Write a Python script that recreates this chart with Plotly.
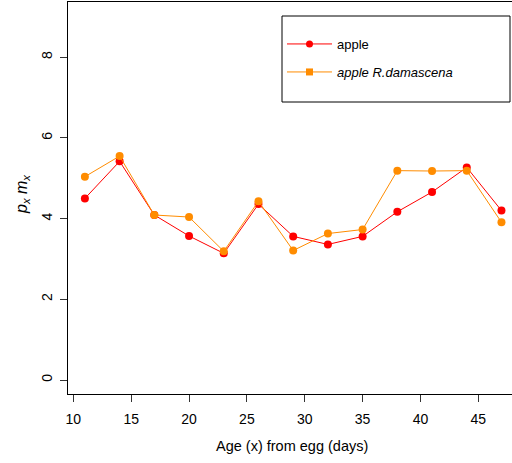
import plotly.graph_objects as go

# ---- data ----
age = [11, 14, 17, 20, 23, 26, 29, 32, 35, 38, 41, 44, 47]
apple = [4.50, 5.42, 4.09, 3.57, 3.14, 4.36, 3.56, 3.36, 3.56, 4.17, 4.66, 5.27, 4.20]
apple_rd = [5.04, 5.55, 4.09, 4.04, 3.19, 4.43, 3.21, 3.63, 3.73, 5.19, 5.18, 5.19, 3.91]
x_ticks = [10, 15, 20, 25, 30, 35, 40, 45]
y_ticks = [0, 2, 4, 6, 8]
names = ["apple", "<i>apple R.damascena</i>"]

RED = "#FF0000"
ORANGE = "#FF8C00"
FONT = "Liberation Sans, Arial, sans-serif"

W, H = 512, 463
L, R, T, B = 68, 0, 2, 69
PW, PH = W - L - R, H - T - B

def px(x):
    return (x - L) / PW

def py(y):
    return (H - B - y) / PH

fig = go.Figure()
fig.add_trace(go.Scatter(x=age, y=apple, mode="lines+markers", showlegend=False,
                         line=dict(color=RED, width=1),
                         marker=dict(color=RED, size=8, symbol="circle")))
fig.add_trace(go.Scatter(x=age, y=apple_rd, mode="lines+markers", showlegend=False,
                         line=dict(color=ORANGE, width=1),
                         marker=dict(color=ORANGE, size=8, symbol="circle")))
# legend-only entries
fig.add_trace(go.Scatter(x=[None], y=[None], mode="lines+markers", name=names[0],
                         line=dict(color=RED, width=1),
                         marker=dict(color=RED, size=7, symbol="circle"), legend="legend"))
fig.add_trace(go.Scatter(x=[None], y=[None], mode="lines+markers", name=names[1],
                         line=dict(color=ORANGE, width=1),
                         marker=dict(color=ORANGE, size=7, symbol="square"), legend="legend2"))

leg_common = dict(xanchor="left", yanchor="middle", bgcolor="rgba(0,0,0,0)",
                  borderwidth=0, font=dict(family=FONT, size=13, color="black"),
                  itemwidth=45)
fig.update_layout(
    width=W, height=H,
    margin=dict(l=L, r=R, t=T, b=B),
    plot_bgcolor="white", paper_bgcolor="white",
    font=dict(family=FONT, size=13, color="black"),
    legend=dict(x=px(282), y=py(44), **leg_common),
    legend2=dict(x=px(282), y=py(72), **leg_common),
    xaxis=dict(range=[9.54, 47.91], tickvals=x_ticks, ticks="outside", ticklen=7,
               tickcolor="#333", showline=True, linecolor="black", linewidth=1,
               mirror=True, showgrid=False, zeroline=False, ticklabelstandoff=5,
               tickfont=dict(family=FONT, size=14)),
    yaxis=dict(range=[-0.347, 9.37], tickvals=y_ticks, ticks="outside", ticklen=7,
               tickcolor="#333", showline=True, linecolor="black", linewidth=1,
               mirror=False, showgrid=False, zeroline=False, tickangle=-90,
               ticklabelstandoff=2,
               tickfont=dict(family=FONT, size=14)),
    shapes=[dict(type="rect", xref="paper", yref="paper",
                 x0=px(282), x1=px(510), y0=py(102), y1=py(16),
                 line=dict(color="black", width=1))],
    annotations=[
        dict(text="Age (x) from egg (days)", xref="paper", yref="paper",
             x=px(292), y=py(446), xanchor="center", yanchor="middle",
             showarrow=False, font=dict(family=FONT, size=14.5)),
        dict(text="<i>p<sub>x</sub> m<sub>x</sub></i>", xref="paper", yref="paper",
             x=px(22), y=py(195), xanchor="center", yanchor="middle",
             showarrow=False, textangle=-90,
             font=dict(family=FONT, size=16)),
    ],
)

fig.write_html("out.html", config={"displayModeBar": False},
               post_script="document.body.style.margin='0';document.body.style.overflow='hidden';")
